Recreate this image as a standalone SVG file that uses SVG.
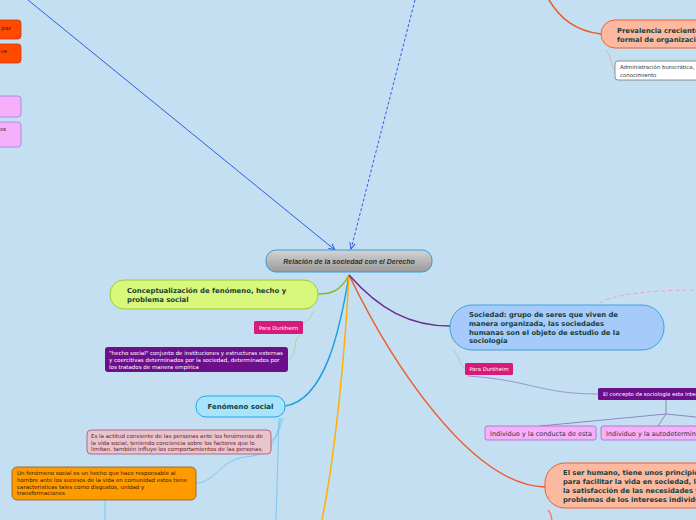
<svg xmlns="http://www.w3.org/2000/svg" width="696" height="520" viewBox="0 0 696 520">
<defs>
<linearGradient id="gc" x1="0" y1="0" x2="0" y2="1"><stop offset="0" stop-color="#d4d4d4"/><stop offset="1" stop-color="#9a9a9a"/></linearGradient>
<marker id="arr" viewBox="0 0 10 10" refX="9" refY="5" markerWidth="7" markerHeight="7" orient="auto"><path d="M0,1 L9,5 L0,9" fill="none" stroke="#2f5fe8" stroke-width="1.5"/></marker>
</defs>
<style>
.b{font-family:"DejaVu Sans",Verdana,sans-serif;font-weight:bold;fill:#16403a}
.s{font-family:"DejaVu Sans",Verdana,sans-serif}
.c{fill:none}
</style>
<rect width="696" height="520" fill="#c3dff1"/>
<g id="connectors">
<path d="M28,0 L335,250" stroke="#2f5fe8" stroke-width="1" class="c" marker-end="url(#arr)"/>
<path d="M415,0 L351,249" stroke="#2f5fe8" stroke-width="1" stroke-dasharray="3,2" class="c" marker-end="url(#arr)"/>
<path d="M549,0 C560,18 575,31 601,34" stroke="#f05a28" stroke-width="1.5" class="c"/>
<path d="M606,50 C612,56 610,66 615,70" stroke="#f0a090" stroke-width="0.8" class="c"/>
<path d="M349,275 C340,292 330,294 318,294" stroke="#88b820" stroke-width="1.5" class="c"/>
<path d="M315,310 C310,314 312,320 303,323" stroke="#a8d070" stroke-width="0.7" class="c"/>
<path d="M300,335 C292,340 298,356 289,359" stroke="#a8d070" stroke-width="0.7" class="c"/>
<path d="M349,275 C340,330 325,400 285,406" stroke="#1e9fe0" stroke-width="1.5" class="c"/>
<path d="M349,275 C345,350 336,450 322,520" stroke="#ffb000" stroke-width="1.5" class="c"/>
<path d="M349,275 C390,360 470,485 545,487" stroke="#f05a28" stroke-width="1.5" class="c"/>
<path d="M349,275 C380,310 410,326 450,326" stroke="#6a2c91" stroke-width="1.5" class="c"/>
<path d="M600,303 C615,293 660,290 696,290" stroke="#f0a0c8" stroke-width="1" stroke-dasharray="4,3" class="c"/>
<path d="M453,350 C460,355 458,365 465,368" stroke="#b8b0d0" stroke-width="0.7" class="c"/>
<path d="M468,376 C530,380 540,394 598,394" stroke="#9080c0" stroke-width="0.8" class="c"/>
<path d="M666,400 L666,414 M666,414 L540,426 M666,414 L658,426 M666,414 L696,417" stroke="#8070b0" stroke-width="0.8" class="c"/>
<path d="M548,510 C552,514 551,517 552,520" stroke="#f08060" stroke-width="1.5" class="c"/>
<path d="M283,418 C280,430 276,438 271,441" stroke="#70c0ec" stroke-width="0.8" class="c"/>
<path d="M281,418 C276,440 272,455 245,457 C220,460 215,483 196,483" stroke="#70c0ec" stroke-width="0.8" class="c"/>
<path d="M279,418 C278,450 277,490 276,520" stroke="#70c0ec" stroke-width="0.8" class="c"/>
<path d="M105,500 L105,520" stroke="#70c0ec" stroke-width="0.8" class="c"/>
</g>
<g id="tl1"><rect x="-6" y="20" width="27" height="19" rx="3" fill="#ff4a00" stroke="#c83a10" stroke-width="0.8"/><text x="11" y="30" text-anchor="end" class="s" font-size="5.3" fill="#3a1a10">paz</text></g>
<g id="tl2"><rect x="-6" y="44" width="27" height="19" rx="3" fill="#ff4a00" stroke="#c83a10" stroke-width="0.8"/><text x="7" y="53" text-anchor="end" class="s" font-size="5.3" fill="#3a1a10">ue</text></g>
<g id="tl3"><rect x="-6" y="96" width="27" height="21" rx="3" fill="#f6b0fb" stroke="#8a8ae0" stroke-width="0.8"/></g>
<g id="tl4"><rect x="-6" y="122" width="27" height="25" rx="3" fill="#f6b0fb" stroke="#8a8ae0" stroke-width="0.8"/><text x="6" y="131" text-anchor="end" class="s" font-size="5.3" fill="#3a1a30">os</text></g>
<g id="prevalencia"><rect x="601" y="20" width="110" height="28" rx="14" fill="#fdb9a0" stroke="#f06030" stroke-width="1"/><text x="617" y="33" class="b" font-size="6.8">Prevalencia creciente</text><text x="617" y="42" class="b" font-size="6.8">formal de organización</text></g>
<g id="administracion"><rect x="615" y="61" width="95" height="19" rx="3" fill="#ffffff" stroke="#777" stroke-width="0.8"/><text x="620" y="69" class="s" font-size="5.4" fill="#333">Administración burocrática,</text><text x="620" y="76.5" class="s" font-size="5.4" fill="#333">conocimiento</text></g>
<g id="central"><rect x="266" y="250" width="166" height="22" rx="10" fill="url(#gc)" stroke="#3a9ad8" stroke-width="1"/><text x="349" y="264" text-anchor="middle" font-family="Liberation Sans,Arial,sans-serif" font-weight="bold" font-style="italic" font-size="7" fill="#333">Relación de la sociedad con el Derecho</text></g>
<g id="conceptualizacion"><rect x="110" y="280" width="208" height="29" rx="14" fill="#d9f77a" stroke="#9acd32" stroke-width="1"/><text x="127" y="293" class="b" font-size="6.9">Conceptualización de fenómeno, hecho y</text><text x="127" y="302" class="b" font-size="6.9">problema social</text></g>
<g id="durkheim1"><rect x="254" y="321" width="49" height="13" rx="1.5" fill="#d81b7a"/><text x="278.5" y="329.5" text-anchor="middle" class="s" font-size="5.3" fill="#fff">Para Durkheim</text></g>
<g id="hechosocial"><rect x="105" y="347" width="183" height="25" rx="3" fill="#6b0f8b"/><text class="s" font-size="5.5" fill="#fff"><tspan x="109" y="355">"hecho social" conjunto de instituciones y estructuras externas</tspan><tspan x="109" y="362">y coercitivas determinados por la sociedad, determinados por</tspan><tspan x="109" y="369">los tratados de manera empírica</tspan></text></g>
<g id="fenomeno"><rect x="196" y="396" width="89" height="21" rx="10" fill="#a8e4fb" stroke="#1fa9e8" stroke-width="1"/><text x="240.5" y="409" text-anchor="middle" class="b" font-size="7">Fenómeno social</text></g>
<g id="actitud"><rect x="87" y="430" width="184" height="24" rx="4" fill="#e8c4cc" stroke="#a05070" stroke-width="0.8"/><text class="s" font-size="5.5" fill="#6a1a30"><tspan x="91" y="438">Es la actitud consiente de las personas ante los fenómenos de</tspan><tspan x="91" y="444.5">la vida social, teniendo conciencia sobre los factores que lo</tspan><tspan x="91" y="451">limitan. también influye los comportamientos de las personas.</tspan></text></g>
<g id="unfenomeno"><rect x="12" y="467" width="184" height="33" rx="5" fill="#ff9a00" stroke="#8a5a10" stroke-width="0.8"/><text class="s" font-size="5.5" fill="#3a1a00"><tspan x="17" y="475">Un fenómeno social es un hecho que hace responsable al</tspan><tspan x="17" y="482">hombre ante los sucesos de la vida en comunidad estos tiene</tspan><tspan x="17" y="488.5">características tales como disgustos, unidad y</tspan><tspan x="17" y="495">transformaciones</tspan></text></g>
<g id="sociedad"><rect x="450" y="305" width="214" height="45" rx="22" fill="#a6cbfb" stroke="#3ca0e0" stroke-width="1"/><text class="b" font-size="6.8"><tspan x="469" y="317">Sociedad: grupo de seres que viven de</tspan><tspan x="469" y="326">manera organizada, las sociedades</tspan><tspan x="469" y="334.5">humanas son el objeto de estudio de la</tspan><tspan x="469" y="343">sociología</tspan></text></g>
<g id="durkheim2"><rect x="465" y="363" width="48" height="12" rx="1.5" fill="#d81b7a"/><text x="489" y="371" text-anchor="middle" class="s" font-size="5.3" fill="#fff">Para Durkheim</text></g>
<g id="concepto"><rect x="598" y="388" width="110" height="12" rx="1.5" fill="#6b0f8b"/><text x="603" y="396" class="s" font-size="5.3" fill="#fff">El concepto de sociología esta integrado</text></g>
<g id="individuo1"><rect x="485" y="426" width="111" height="14" rx="2" fill="#f6b0fb" stroke="#a070c0" stroke-width="0.8"/><text x="490" y="436" class="s" font-size="6.5" fill="#333">Individuo y la conducta de esta</text></g>
<g id="individuo2"><rect x="601" y="426" width="110" height="14" rx="2" fill="#f6b0fb" stroke="#a070c0" stroke-width="0.8"/><text x="606" y="436" class="s" font-size="6.5" fill="#333">Individuo y la autodeterminación</text></g>
<g id="serhumano"><rect x="545" y="463" width="170" height="45" rx="20" fill="#fdb9a0" stroke="#f06030" stroke-width="1"/><text class="b" font-size="6.8"><tspan x="563" y="475">El ser humano, tiene unos principios</tspan><tspan x="563" y="484">para facilitar la vida en sociedad, la</tspan><tspan x="563" y="493">la satisfacción de las necesidades y</tspan><tspan x="563" y="502">problemas de los intereses  individuales</tspan></text></g>
</svg>
